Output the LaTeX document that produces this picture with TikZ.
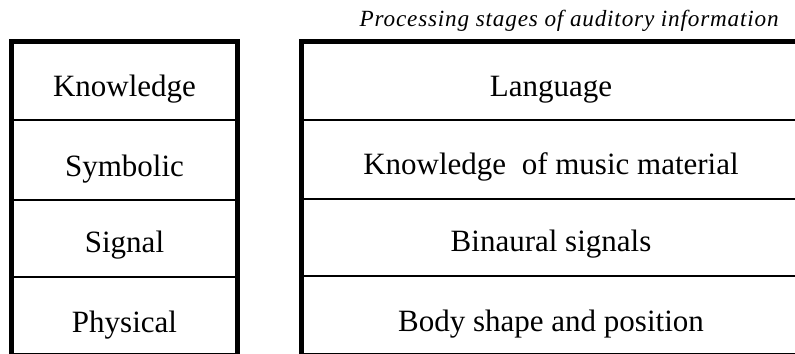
\documentclass[tikz,border=0pt]{standalone}
\usepackage{fontspec}
\setmainfont{Liberation Serif}
\begin{document}
\begin{tikzpicture}[x=0.5pt,y=-0.5pt,
  outer/.style={line width=2.5pt,line cap=rect},
  sep/.style={line width=1pt},
  cell/.style={anchor=base,inner sep=0pt,font=\fontsize{15.5}{18}\selectfont},
  titletext/.style={anchor=base east,inner sep=0pt,font=\fontsize{11.6}{14}\selectfont\itshape\addfontfeatures{LetterSpace=3.5}}]
\useasboundingbox (0,0) rectangle (795,353);
\clip (0,0) rectangle (795,353);
% left box
\draw[outer] (11.5,41.5) rectangle (237.5,355);
\draw[sep] (11.5,120) -- (237.5,120);
\draw[sep] (11.5,200) -- (237.5,200);
\draw[sep] (11.5,277) -- (237.5,277);
% right box
\draw[outer] (301.5,41.5) rectangle (805,355);
\draw[sep] (301.5,120) -- (805,120);
\draw[sep] (301.5,199) -- (805,199);
\draw[sep] (301.5,276) -- (805,276);
% title
\node[titletext] (title) at (779,27) {Processing stages of auditory information};
% left labels
\node[cell] (knowledge) at (124.5,97) {Knowledge};
\node[cell] (symbolic) at (124.5,176) {Symbolic};
\node[cell] (signal) at (124.5,252) {Signal};
\node[cell] (physical) at (124.5,332) {Physical};
% right labels
\node[cell] (language) at (551,97) {Language};
\node[cell] (music) at (551,174) {Knowledge\ \ of music material};
\node[cell] (binaural) at (551,251) {Binaural signals};
\node[cell] (body) at (551,331) {Body shape and position};
\end{tikzpicture}
\end{document}
